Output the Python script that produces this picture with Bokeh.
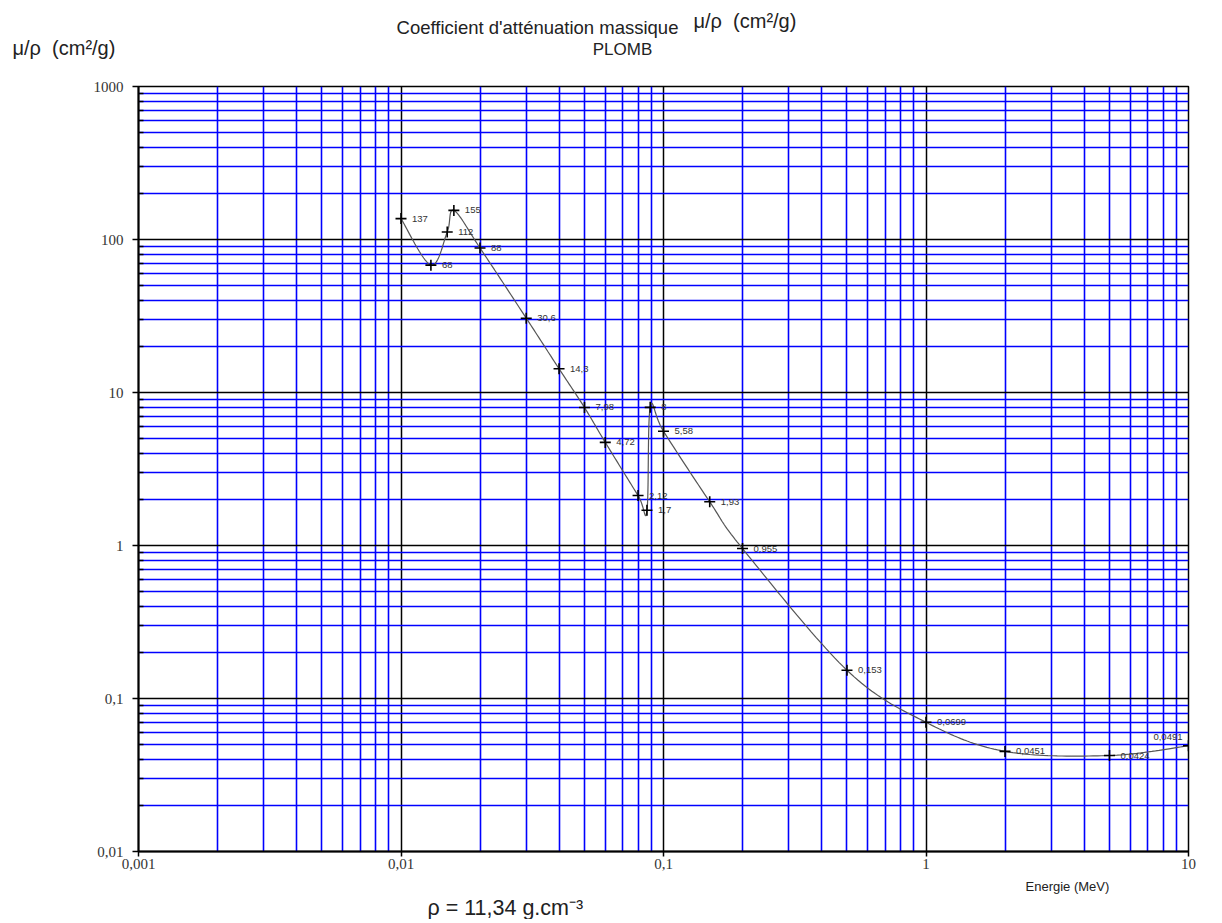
import numpy as np
from bokeh.plotting import figure
from bokeh.layouts import column
from bokeh.models import FixedTicker, CustomJSTickFormatter, Label, ColumnDataSource, Range1d
from bokeh.embed import file_html
from bokeh.resources import INLINE

# ---- data ----
energy = [0.01, 0.013, 0.015, 0.0159, 0.02, 0.03, 0.04, 0.05, 0.06, 0.08,
          0.0865, 0.089, 0.1, 0.15, 0.2, 0.5, 1, 2, 5, 10]
mu_rho = [137, 68, 112, 155, 88, 30.6, 14.3, 7.98, 4.72, 2.12,
          1.7, 8, 5.58, 1.93, 0.955, 0.153, 0.0699, 0.0451, 0.0424, 0.0491]
point_labels = ["137", "68", "112", "155", "88", "30,6", "14,3", "7,98", "4,72", "2,12",
                "1,7", "8", "5,58", "1,93", "0,955", "0,153", "0,0699", "0,0451", "0,0424", "0,0491"]
x_ticks = [0.001, 0.01, 0.1, 1, 10]
y_ticks = [0.01, 0.1, 1, 10, 100, 1000]

x_minor = [m * d for d in x_ticks[:-1] for m in range(2, 10)]
y_minor = [m * d for d in y_ticks[:-1] for m in range(2, 10)]

W = 1210
TOP_H = 76          # page y 0 .. 76
MAIN_H = 801        # page y 76 .. 877
BOT_H = 42          # page y 877 .. 919
FONT = "Liberation Sans"
NB = "\u00a0"


def no_align(f):
    try:
        f.frame_align = False
    except Exception:
        pass


def text_band(h):
    f = figure(width=W, height=h, x_range=Range1d(0, W), y_range=Range1d(h, 0),
               output_backend="svg", toolbar_location=None,
               x_axis_location=None, y_axis_location=None,
               min_border=0, min_border_left=0, min_border_right=0,
               min_border_top=0, min_border_bottom=0)
    f.outline_line_color = None
    f.xgrid.visible = False
    f.ygrid.visible = False
    f.background_fill_color = "white"
    f.border_fill_color = "white"
    no_align(f)
    return f


def band_text(f, y0, px, py, txt, size, align="left"):
    # px, py: page pixels; y0: page y of the band's top
    f.add_layout(Label(x=px, y=py - y0, text=txt, text_align=align,
                       text_baseline="middle", text_font=FONT,
                       text_font_size=size, text_color="#222222"))


# ---- top band: titles ----
top = text_band(TOP_H)
band_text(top, 0, 12, 47, "μ/ρ" + NB + NB + "(cm²/g)", "20px")
band_text(top, 0, 537, 27, "Coefficient d'atténuation massique", "18.5px", "center")
band_text(top, 0, 622, 49, "PLOMB", "17px", "center")
band_text(top, 0, 693, 20, "μ/ρ" + NB + NB + "(cm²/g)", "20px")

# ---- main chart ----
p = figure(width=W, height=MAIN_H, x_axis_type="log", y_axis_type="log",
           x_range=(0.001, 10), y_range=(0.01, 1000),
           output_backend="svg", toolbar_location=None,
           min_border_left=138, min_border_right=W - 1188,
           min_border_top=10, min_border_bottom=26)
no_align(p)

p.background_fill_color = "white"
p.border_fill_color = "white"
p.outline_line_color = "black"
p.outline_line_width = 1.5

fmt = CustomJSTickFormatter(code="return tick.toString().replace('.', ',');")
p.xaxis.ticker = FixedTicker(ticks=x_ticks, minor_ticks=x_minor)
p.yaxis.ticker = FixedTicker(ticks=y_ticks, minor_ticks=y_minor)
p.xaxis.formatter = fmt
p.yaxis.formatter = fmt

for ax in (p.xaxis, p.yaxis):
    ax.axis_line_color = "black"
    ax.axis_line_width = 2
    ax.major_tick_line_color = "black"
    ax.major_tick_line_width = 1.5
    ax.major_tick_in = 0
    ax.major_label_text_font = "Liberation Serif"
    ax.major_label_text_font_size = "15px"
    ax.major_label_text_color = "#333333"
p.yaxis.major_tick_out = 6
p.xaxis.major_tick_out = 5
p.yaxis.minor_tick_line_color = "black"
p.yaxis.minor_tick_line_width = 1.5
p.yaxis.minor_tick_in = 5
p.yaxis.minor_tick_out = 0
p.xaxis.minor_tick_line_color = None
p.yaxis.major_label_standoff = 9
p.xaxis.major_label_standoff = 2

for g in (p.xgrid, p.ygrid):
    g.grid_line_color = "black"
    g.grid_line_width = 1.5
    g.minor_grid_line_color = "#0000ff"
    g.minor_grid_line_width = 1.6

# smooth curve (Excel-like Catmull-Rom) through the data in log space
XDEC, YDEC = 262.5, 153.0
lx = np.log10(np.array(energy)) * XDEC
ly = np.log10(np.array(mu_rho)) * YDEC
P = np.column_stack([lx, ly])
P = np.vstack([P[0], P, P[-1]])
t = np.linspace(0, 1, 25)[:, None]
segs = []
for i in range(1, len(P) - 2):
    p0, p1, p2, p3 = P[i - 1], P[i], P[i + 1], P[i + 2]
    seg = 0.5 * (2 * p1 + (-p0 + p2) * t + (2 * p0 - 5 * p1 + 4 * p2 - p3) * t ** 2
                 + (-p0 + 3 * p1 - 3 * p2 + p3) * t ** 3)
    segs.append(seg if i == len(P) - 3 else seg[:-1])
curve = np.vstack(segs)
cx = 10 ** (curve[:, 0] / XDEC)
cy = 10 ** (curve[:, 1] / YDEC)
p.line(cx, cy, line_color="#555555", line_width=1.2)

src = ColumnDataSource(dict(x=energy, y=mu_rho, lab=point_labels))
p.scatter("x", "y", source=src, marker="cross", size=11, line_color="black", line_width=1.6)

n = len(energy)
for i, (e, m, lab) in enumerate(zip(energy, mu_rho, point_labels)):
    last = i == n - 1
    p.add_layout(Label(x=e, y=m, text=lab,
                       x_offset=-6 if last else 11, y_offset=9 if last else 0,
                       text_baseline="middle", text_align="right" if last else "left",
                       text_font=FONT, text_font_size="9.5px", text_color="#333333"))

# ---- bottom band ----
bot = text_band(BOT_H)
band_text(bot, 877, 1025, 886, "Energie (MeV)", "13px")
band_text(bot, 877, 427, 907, "ρ = 11,34 g.cm⁻³", "21.5px")

layout = column(top, p, bot, spacing=0)
open("out.html", "w").write(file_html(layout, INLINE))
